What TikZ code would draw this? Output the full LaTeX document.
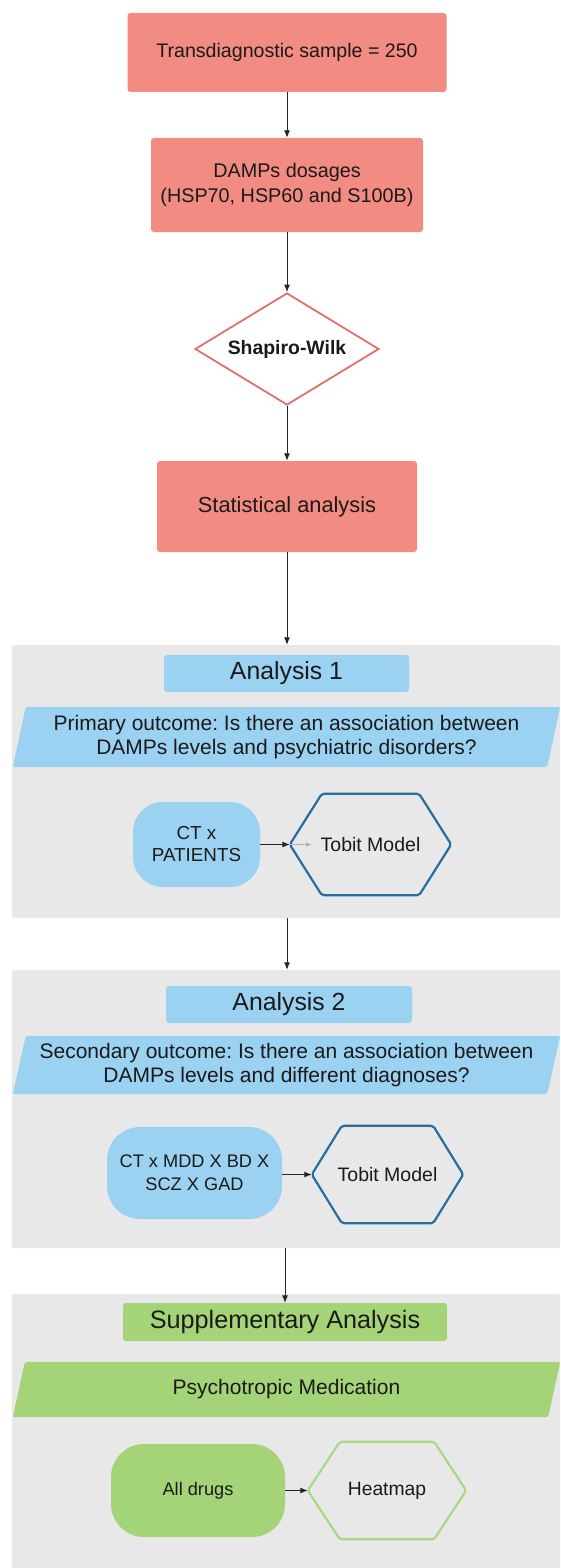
\documentclass[tikz,border=0pt]{standalone}
\usepackage{fontspec}
\setmainfont{Liberation Sans}
\frenchspacing
\usetikzlibrary{shapes.geometric,arrows.meta}
\pgfdeclarelayer{bg}
\pgfdeclarelayer{mid}
\pgfsetlayers{bg,mid,main}
\definecolor{salmon}{RGB}{242,140,130}
\definecolor{salmonline}{RGB}{222,112,110}
\definecolor{skyfill}{RGB}{155,210,241}
\definecolor{hexblue}{RGB}{36,110,160}
\definecolor{leaf}{RGB}{164,211,120}
\definecolor{leafline}{RGB}{170,218,128}
\definecolor{panelgray}{RGB}{232,232,232}
\definecolor{ink}{RGB}{26,26,26}
\newcommand{\hexof}[3]{\draw[#3] (#1.west) -- ([xshift=#2]#1.north west) -- ([xshift=-#2]#1.north east) -- (#1.east) -- ([xshift=-#2]#1.south east) -- ([xshift=#2]#1.south west) -- cycle;}
\newcommand{\parof}[3]{\fill[#3] (#1.south west) -- ([xshift=-#2]#1.south east) -- (#1.north east) -- ([xshift=#2]#1.north west) -- cycle;}
\tikzset{
  redbox/.style={fill=salmon, rounded corners=3pt, inner sep=0pt, text=ink, align=center},
  tagbox/.style={rounded corners=3pt, inner sep=0pt, text=ink, align=center},
  slab/.style={inner sep=0pt, text=ink, align=center},
  pill/.style={inner sep=0pt, text=ink, align=center},
  hexnode/.style={inner sep=0pt, text=ink, align=center},
  panel/.style={fill=panelgray, rounded corners=2pt, inner sep=0pt},
  link/.style={draw=black!85, line width=0.9pt, -{Latex[length=7.5pt,width=6pt]}},
  hexline/.style={line width=2.2pt, rounded corners=2pt, line join=round}
}
\begin{document}
\begin{tikzpicture}[x=1pt,y=-1pt]
\useasboundingbox (0,0) rectangle (560,1568);
\begin{pgfonlayer}{bg}
\fill[white] (0,0) rectangle (560,1568);
\end{pgfonlayer}

% top chain
\node[redbox, minimum width=319, minimum height=79, font=\fontsize{19.6}{23}\selectfont] (b1) at (287,52.5) {Transdiagnostic sample = 250};
\node[redbox, minimum width=272, minimum height=94, font=\fontsize{19.8}{25}\selectfont] (b2) at (287,185) {DAMPs dosages\\(HSP70, HSP60 and S100B)};
\node[diamond, aspect=1.64, minimum width=184, minimum height=112, inner sep=0pt, fill=white, draw=salmonline, line width=1.8pt, text=ink, font=\fontsize{19.4}{23}\selectfont\bfseries] (sw) at (287,349) {Shapiro-Wilk};
\node[redbox, minimum width=260, minimum height=91, font=\fontsize{21.8}{26}\selectfont] (b3) at (287,506.5) {Statistical analysis};

\draw[link] (b1) -- (b2);
\draw[link] (b2) -- (sw);
\draw[link] (sw) -- (b3);

% panels
\begin{pgfonlayer}{bg}
\node[panel, minimum width=548, minimum height=273] (p1) at (286,781.5) {};
\node[panel, minimum width=548, minimum height=278] (p2) at (286,1109) {};
\node[panel, minimum width=548, minimum height=280] (p3) at (286,1434) {};
\end{pgfonlayer}

% panel 1
\node[tagbox, fill=skyfill, minimum width=245, minimum height=37, font=\fontsize{24.8}{29}\selectfont] (a1) at (286.5,673.5) {Analysis 1};
\node[slab, minimum width=547, minimum height=60, font=\fontsize{21}{24}\selectfont] (q1) at (286.5,737) {Primary outcome: Is there an association between\\DAMPs levels and psychiatric disorders?};
\begin{pgfonlayer}{mid}\parof{q1}{13}{skyfill, rounded corners=2pt}\end{pgfonlayer}
\node[pill, fill=skyfill, rounded corners=30pt, minimum width=127, minimum height=85, font=\fontsize{18.8}{22}\selectfont] (c1) at (196.5,844.5) {CT x\\PATIENTS};
\node[hexnode, minimum width=161, minimum height=101, font=\fontsize{19.5}{23}\selectfont] (h1) at (370.5,844.5) {Tobit Model};
\hexof{h1}{32}{hexline, draw=hexblue}
\draw[link] (c1) -- (h1.west);
\coordinate (g1) at ([xshift=22]h1.west);
\draw[draw=black!30, line width=0.8pt, -{Latex[length=6pt,width=5pt]}] (h1.west) -- (g1);

% panel 2
\node[tagbox, fill=skyfill, minimum width=246, minimum height=37, font=\fontsize{24.8}{29}\selectfont] (a2) at (289,1004.5) {Analysis 2};
\node[slab, minimum width=547, minimum height=58, font=\fontsize{21}{24}\selectfont] (q2) at (286.5,1065) {Secondary outcome: Is there an association between\\DAMPs levels and different diagnoses?};
\begin{pgfonlayer}{mid}\parof{q2}{13}{skyfill, rounded corners=2pt}\end{pgfonlayer}
\node[pill, fill=skyfill, rounded corners=33pt, minimum width=175, minimum height=92, font=\fontsize{18.2}{23}\selectfont] (c2) at (194.5,1173) {CT x MDD X BD X\\SCZ X GAD};
\node[hexnode, minimum width=151, minimum height=97, font=\fontsize{19.5}{23}\selectfont] (h2) at (387.5,1174.5) {Tobit Model};
\hexof{h2}{30}{hexline, draw=hexblue}
\draw[link] (c2.east |- h2.west) -- (h2.west);

% panel 3
\node[tagbox, fill=leaf, minimum width=324, minimum height=38, font=\fontsize{25.2}{30}\selectfont] (s3) at (285,1322) {Supplementary Analysis};
\node[slab, minimum width=547, minimum height=55, font=\fontsize{21}{24}\selectfont] (q3) at (286.5,1389.5) {Psychotropic Medication};
\begin{pgfonlayer}{mid}\parof{q3}{12}{leaf, rounded corners=2pt}\end{pgfonlayer}
\node[pill, fill=leaf, rounded corners=33pt, minimum width=174, minimum height=93, font=\fontsize{18.2}{22}\selectfont] (c3) at (198,1490.5) {All drugs};
\node[hexnode, minimum width=158, minimum height=97, font=\fontsize{19.3}{23}\selectfont] (h3) at (387,1490.5) {Heatmap};
\hexof{h3}{32}{hexline, draw=leafline}
\draw[link] (c3) -- (h3.west);

% connectors between sections
\draw[link] (b3.south) -- (b3.south |- p1.north);
\draw[link] (b3.south |- p1.south) -- (b3.south |- p2.north);
\draw[link] (s3.north |- p2.south) -- (s3.north);
\end{tikzpicture}
\end{document}
